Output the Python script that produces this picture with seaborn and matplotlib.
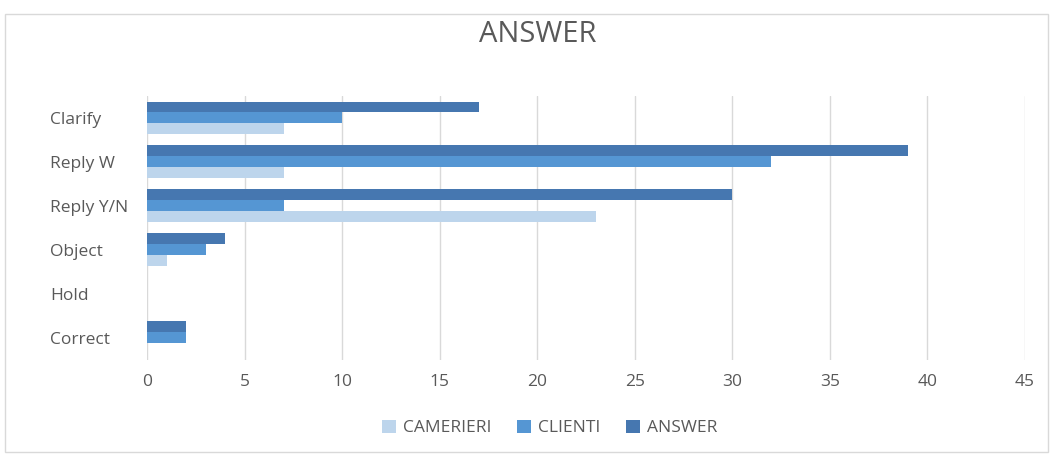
import matplotlib
matplotlib.use("Agg")
import matplotlib.pyplot as plt
from matplotlib.patches import Rectangle, Patch
import pandas as pd
import seaborn as sns

categories = ["Clarify", "Reply W", "Reply Y/N", "Object", "Hold", "Correct"]
camerieri = [7, 7, 23, 1, 0, 0]
clienti = [10, 32, 7, 3, 0, 2]
answer = [17, 39, 30, 4, 0, 2]
x_ticks = [0, 5, 10, 15, 20, 25, 30, 35, 40, 45]

series = {"ANSWER": answer, "CLIENTI": clienti, "CAMERIERI": camerieri}
colors = {"CAMERIERI": "#bdd5ec", "CLIENTI": "#5596d3", "ANSWER": "#4677b0"}

rows = []
for name, vals in series.items():
    for cat, v in zip(categories, vals):
        rows.append({"category": cat, "series": name, "value": v})
df = pd.DataFrame(rows)

sns.set_style("white")
plt.rcParams["font.family"] = ["Open Sans", "DejaVu Sans"]
text_color = "#595959"

fig = plt.figure(figsize=(10.53, 4.55), dpi=100)
ax = fig.add_axes([0.1396, 0.209, 0.8338, 0.580])

sns.barplot(data=df, y="category", x="value", hue="series",
            order=categories, hue_order=["ANSWER", "CLIENTI", "CAMERIERI"],
            palette=colors, orient="h", width=0.75, gap=0,
            saturation=1, errorbar=None, legend=False, linewidth=0, ax=ax)

ax.set_xlim(0, 45)
ax.set_xticks(x_ticks)
ax.set_xlabel("")
ax.set_ylabel("")
ax.grid(axis="x", color="#d9d9d9", linewidth=1)
ax.set_axisbelow(True)
for s in ax.spines.values():
    s.set_visible(False)
ax.tick_params(axis="both", length=0, labelsize=12.5, colors=text_color)
ax.tick_params(axis="x", pad=10)
ax.tick_params(axis="y", pad=70)
for lbl in ax.get_yticklabels():
    lbl.set_horizontalalignment("left")

fig.text(0.511, 0.925, "ANSWER", ha="center", va="center",
         fontsize=21, color=text_color)

handles = [Patch(facecolor=colors[n], edgecolor="none")
           for n in ["CAMERIERI", "CLIENTI", "ANSWER"]]
fig.legend(handles, ["CAMERIERI", "CLIENTI", "ANSWER"],
           loc="center", bbox_to_anchor=(0.522, 0.059), ncol=3,
           frameon=False, fontsize=12.5, handlelength=0.8, handleheight=0.8,
           handletextpad=0.4, columnspacing=1.5, labelcolor=text_color)

fig.patches.append(Rectangle((5 / 1053, 3 / 455), 1043 / 1053, 438 / 455,
                             transform=fig.transFigure, fill=False,
                             edgecolor="#d9d9d9", linewidth=1))

fig.savefig("out.png", dpi=100, facecolor="white")
